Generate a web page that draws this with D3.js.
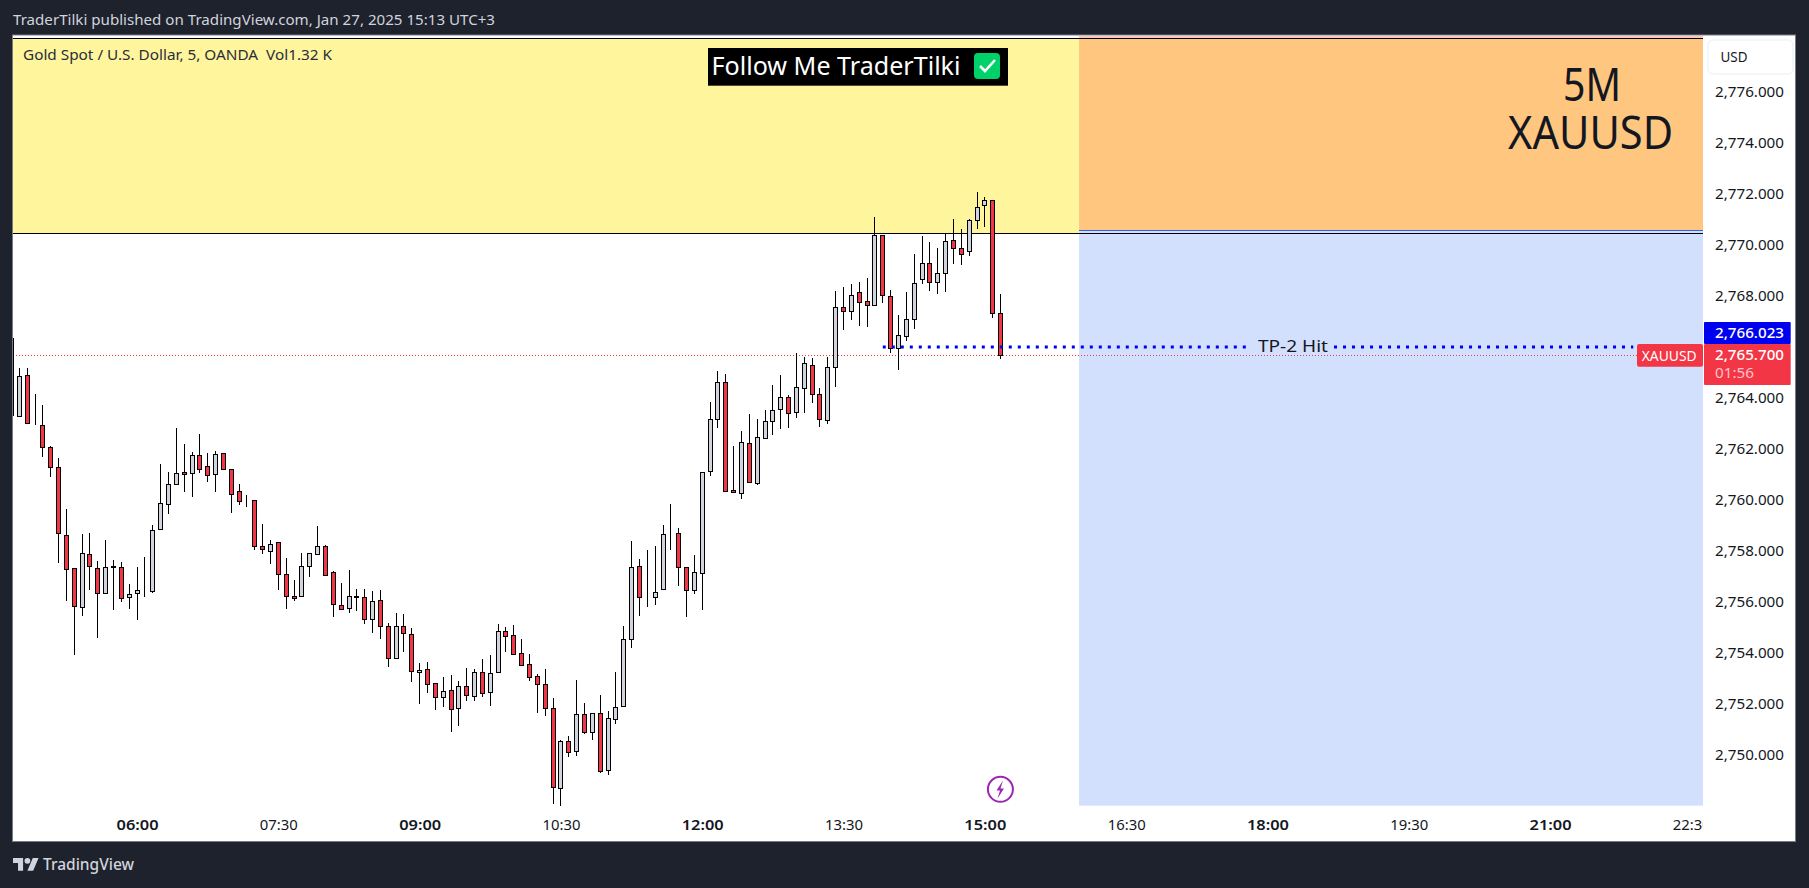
<!DOCTYPE html>
<html><head><meta charset="utf-8">
<script src="https://d3js.org/d3.v7.min.js"></script>
<style>html,body{margin:0;padding:0;background:#1e222d;overflow:hidden}svg{display:block}text{font-family:"Noto Sans",sans-serif}</style>
</head><body><svg id="c" width="1809" height="888"></svg>
<script>
const opens=[2766.37,
2763.31,2764.91,2763.03,2762.95,2762.09,2761.31,2758.64,2757.35,2755.82,2757.90,
2757.35,2756.37,2757.42,2757.39,2756.21,2756.37,2756.48,2756.44,2758.87,2759.85,
2760.64,2761.11,2761.07,2761.78,2761.35,2761.03,2761.86,2761.23,2760.37,2760.01,
2760.01,2758.21,2758.01,2758.36,2757.11,2756.25,2756.25,2757.42,2757.90,2758.21,
2757.19,2755.89,2755.78,2756.25,2756.21,2755.35,2756.09,2755.07,2753.82,2755.07,
2754.76,2753.27,2753.38,2752.84,2752.29,2752.56,2751.86,2752.72,2752.33,2753.27,
2752.48,2753.27,2754.87,2754.72,2754.01,2753.58,2753.11,2752.80,2751.86,2748.72,
2750.56,2750.17,2751.62,2750.91,2751.66,2749.42,2751.42,2751.93,2754.56,2757.42,
2756.21,2756.21,2756.52,2758.72,2758.72,2757.38,2756.48,2757.15,2761.15,2763.19,
2764.64,2760.41,2760.29,2762.25,2760.68,2762.44,2763.11,2763.58,2764.05,2763.46,
2764.40,2765.31,2764.17,2763.15,2765.23,2767.58,2767.42,2768.17,2767.82,2767.66,
2770.41,2768.01,2765.97,2766.44,2767.11,2768.68,2769.31,2768.56,2768.92,2770.21,
2769.90,2769.78,2770.99,2771.58,2771.78,2767.35];
const highs=[2766.37,
2765.20,2765.20,2764.18,2763.75,2762.13,2761.67,2759.67,2757.35,2758.69,2758.73,
2757.63,2758.42,2757.67,2757.59,2756.73,2757.36,2757.79,2759.04,2761.40,2761.12,
2762.81,2762.22,2761.87,2762.61,2761.83,2761.91,2761.86,2761.23,2760.65,2760.22,
2760.01,2759.08,2758.42,2758.36,2757.75,2756.85,2757.91,2757.93,2758.97,2758.26,
2757.23,2756.77,2757.28,2756.53,2756.53,2756.42,2756.46,2755.20,2755.59,2755.55,
2754.97,2753.63,2753.67,2752.84,2753.08,2753.16,2752.89,2753.40,2753.36,2753.79,
2753.91,2755.16,2755.01,2755.12,2754.57,2753.95,2753.20,2753.36,2752.26,2750.60,
2750.77,2752.93,2752.06,2751.66,2752.34,2751.75,2753.28,2755.08,2758.38,2757.71,
2758.06,2758.22,2759.04,2759.83,2758.89,2757.38,2757.83,2761.11,2763.83,2765.05,
2764.93,2762.14,2762.73,2763.36,2763.20,2763.52,2764.50,2764.89,2764.14,2765.79,
2765.63,2765.59,2764.38,2765.63,2768.22,2768.34,2768.46,2768.54,2768.73,2771.12,
2770.41,2768.26,2767.28,2768.18,2769.67,2770.34,2770.14,2769.87,2770.48,2771.01,
2770.65,2771.03,2772.10,2771.87,2771.78,2768.07];
const lows=[2763.32,
2763.31,2763.03,2762.98,2761.72,2760.94,2757.57,2756.08,2753.96,2755.49,2756.51,
2754.63,2756.37,2755.73,2756.04,2755.76,2755.33,2756.23,2756.39,2758.87,2759.49,
2760.64,2760.35,2760.16,2761.10,2760.74,2760.35,2761.23,2759.53,2759.84,2759.76,
2758.08,2757.92,2757.53,2756.51,2755.76,2756.08,2756.25,2757.02,2757.90,2757.07,
2755.45,2755.74,2755.61,2755.71,2755.18,2754.82,2754.59,2753.49,2753.82,2754.08,
2752.90,2752.04,2752.47,2751.80,2751.92,2750.94,2751.18,2752.16,2752.16,2752.31,
2751.96,2753.27,2754.08,2753.97,2753.54,2752.94,2751.69,2751.57,2748.12,2748.04,
2749.96,2750.00,2750.86,2750.63,2749.33,2749.25,2751.25,2751.93,2754.23,2755.49,
2755.84,2755.92,2756.52,2758.08,2756.67,2755.45,2756.35,2755.73,2760.98,2762.86,
2760.37,2760.33,2760.08,2760.72,2760.63,2762.44,2762.59,2762.82,2762.86,2763.25,
2763.45,2763.84,2762.90,2763.02,2764.47,2766.71,2767.10,2766.86,2766.82,2767.66,
2767.76,2765.80,2765.14,2766.27,2766.75,2768.51,2768.24,2768.12,2768.20,2769.29,
2769.26,2769.61,2770.67,2770.75,2767.18,2765.57];
const closes=[2763.32,
2764.88,2763.03,2763.02,2762.09,2761.31,2758.72,2757.31,2755.86,2757.93,2757.42,
2756.37,2757.39,2757.39,2756.17,2756.33,2756.48,2756.47,2758.84,2759.89,2760.64,
2761.07,2761.03,2761.78,2761.23,2760.99,2761.82,2761.23,2760.25,2759.97,2760.00,
2758.21,2758.09,2758.29,2757.11,2756.25,2756.17,2757.42,2757.93,2758.21,2757.07,
2755.93,2755.74,2756.25,2756.21,2755.35,2756.05,2755.07,2753.82,2755.07,2754.80,
2753.31,2753.35,2752.80,2752.29,2752.52,2751.82,2752.72,2752.37,2753.27,2752.44,
2753.23,2754.87,2754.68,2753.97,2753.54,2753.07,2752.80,2751.86,2748.76,2750.56,
2750.13,2751.62,2750.91,2751.66,2749.38,2751.46,2751.89,2754.56,2757.38,2756.21,
2756.20,2756.40,2758.68,2758.70,2757.38,2756.48,2757.19,2761.11,2763.19,2764.64,
2760.37,2760.33,2762.29,2760.72,2762.48,2763.11,2763.54,2764.05,2763.42,2764.44,
2765.39,2764.17,2763.19,2765.23,2767.58,2767.42,2768.05,2767.78,2767.66,2770.41,
2768.05,2765.97,2766.48,2767.11,2768.52,2769.31,2768.56,2768.92,2770.17,2769.90,
2769.66,2770.99,2771.50,2771.78,2767.35,2765.70];
const firstBarMinutes=280, barMinutes=5;
const timeLabels=["06:00","07:30","09:00","10:30","12:00","13:30","15:00","16:30","18:00","19:30","21:00","22:30"];
const boldLabels=["06:00","09:00","12:00","15:00","18:00","21:00"];
const priceTicks=[2750,2752,2754,2756,2758,2760,2762,2764,2768,2770,2772,2774,2776];
const zoneTop=2778.13, zoneMid=2770.6, zoneLine=2770.48, zoneBottom=2748.04, zoneStart=960;
const lastPrice=2765.7, targetPrice=2766.023;
const targetFrom=835, targetGapA=1066.4, targetGapB=1122.4, targetTo=1313;

const toMin=s=>{const [h,m]=s.split(":");return +h*60 + +m;};
const svg=d3.select("#c");
const x=d3.scaleLinear().domain([285,1350]).range([19.3,19.3+213*7.85]);
const y=d3.scaleLinear().domain([2776,2750]).range([92.65,755.65]);
const snap=v=>Math.floor(v)+.5;
const L=13,R=1703,PR=1795.5,T=35,B=841.5;

svg.append("rect").attr("x",12.5).attr("y",T).attr("width",PR-12.5).attr("height",B-T).attr("fill","#fff").attr("stroke","#787b86").attr("stroke-width",1);
const defs=svg.append("defs");
defs.append("clipPath").attr("id","plot").append("rect").attr("x",L).attr("y",36).attr("width",R-L).attr("height",B-36);
const g=svg.append("g").attr("clip-path","url(#plot)");

// zones
const zs=x(zoneStart);
g.append("rect").attr("x",L).attr("y",y(zoneTop)).attr("width",zs-L).attr("height",y(zoneLine)-y(zoneTop)).attr("fill","#fff59d");
g.append("rect").attr("x",zs).attr("y",y(zoneTop)).attr("width",R-zs).attr("height",y(zoneMid)-y(zoneTop)).attr("fill","#ffc680");
g.append("rect").attr("x",zs).attr("y",y(zoneMid)).attr("width",R-zs).attr("height",y(zoneBottom)-y(zoneMid)).attr("fill","#d2e0fd");
g.append("rect").attr("x",zs).attr("y",36).attr("width",R-zs).attr("height",2).attr("fill","#ffc9c0");
g.append("line").attr("x1",L).attr("x2",R).attr("y1",snap(y(zoneTop))).attr("y2",snap(y(zoneTop))).attr("stroke","#000");
g.append("line").attr("x1",zs).attr("x2",R).attr("y1",snap(y(zoneMid))).attr("y2",snap(y(zoneMid))).attr("stroke","#2962ff");
g.append("line").attr("x1",L).attr("x2",R).attr("y1",snap(y(zoneLine))).attr("y2",snap(y(zoneLine))).attr("stroke","#000");

// price line
g.append("line").attr("x1",L).attr("x2",1637).attr("y1",snap(y(lastPrice))).attr("y2",snap(y(lastPrice))).attr("stroke","#f23645").attr("stroke-dasharray","1 2");

// candles
const bars=d3.range(opens.length).map(i=>({i,o:opens[i],h:highs[i],l:lows[i],c:closes[i],cx:snap(x(firstBarMinutes+i*barMinutes))}));
const cg=g.selectAll("g.b").data(bars).join("g").attr("class","b");
cg.append("line").attr("x1",d=>d.cx).attr("x2",d=>d.cx).attr("y1",d=>Math.floor(y(d.h))).attr("y2",d=>Math.ceil(y(d.l))).attr("stroke","#000");
cg.append("rect").attr("x",d=>d.cx-2).attr("width",4)
  .attr("y",d=>snap(y(Math.max(d.o,d.c))))
  .attr("height",d=>Math.max(0,snap(y(Math.min(d.o,d.c)))-snap(y(Math.max(d.o,d.c)))))
  .attr("fill",d=>d.c>=d.o?"#d1d4dc":"#f23645").attr("stroke","#000");

// target dotted line
[[targetFrom,targetGapA],[targetGapB,targetTo]].forEach(([a,b])=>{
  g.append("line").attr("x1",x(a)).attr("x2",x(b)).attr("y1",y(targetPrice)).attr("y2",y(targetPrice)).attr("stroke","#0000f0").attr("stroke-width",3).attr("stroke-dasharray","3 6");
});
function txt(p,s,xx,yy,size,fill,opt={}){
  const t=p.append("text").attr("x",xx).attr("y",yy).attr("dy",".35em").attr("font-size",size).attr("fill",fill).text(s);
  if(opt.anchor)t.attr("text-anchor",opt.anchor);
  if(opt.len)t.attr("textLength",opt.len).attr("lengthAdjust","spacingAndGlyphs");
  if(opt.weight)t.attr("font-weight",opt.weight);
  return t;
}
txt(g,"TP-2 Hit",1258,346,17,"#131722",{len:70});

// headline annotations
svg.append("rect").attr("x",708).attr("y",48).attr("width",300).attr("height",37.7).attr("fill","#000");
txt(svg,"Follow Me TraderTilki",711.5,66,26,"#fff",{len:249});
svg.append("rect").attr("x",974).attr("y",53).attr("width",26).attr("height",26).attr("rx",4).attr("fill","#00d26a");
svg.append("path").attr("d","M980 66l5 5 10-11").attr("fill","none").attr("stroke","#fff").attr("stroke-width",2.6);
const big=svg.append("text").attr("font-size",46).attr("fill","#131722").attr("text-anchor","middle");
big.append("tspan").attr("x",1592).attr("y",85).attr("dy",".35em").attr("textLength",58).attr("lengthAdjust","spacingAndGlyphs").text("5M");
big.append("tspan").attr("x",1590.5).attr("y",133).attr("dy",".35em").attr("textLength",165).attr("lengthAdjust","spacingAndGlyphs").text("XAUUSD");
txt(svg,"Gold Spot / U.S. Dollar, 5, OANDA  Vol1.32 K",23,54.5,15,"#2a2e39",{len:309}).attr("xml:space","preserve");

// bolt icon
svg.append("circle").attr("cx",1000.4).attr("cy",789.3).attr("r",12.5).attr("fill","#fff").attr("stroke","#9c27b0").attr("stroke-width",2);
svg.append("path").attr("d","M1003 780.5l-6.5 10h3.5l-2.5 8 6.5-10h-3.5z").attr("fill","#9c27b0");

// axes
const ya=svg.append("g").call(d3.axisRight(y).tickValues(priceTicks).tickSize(0).tickFormat(d3.format(",.3f")));
ya.select(".domain").remove();
ya.selectAll("text").attr("x",1715).attr("y",-1).attr("dy",".35em").attr("text-anchor","start").attr("font-size",15).attr("fill","#131722").attr("font-family",'"Noto Sans"').attr("textLength",69).attr("lengthAdjust","spacingAndGlyphs");
const xa=g.append("g").attr("transform","translate(0,825)").call(d3.axisBottom(x).tickValues(timeLabels.map(toMin)).tickSize(0).tickFormat(m=>d3.format("02")(Math.floor(m/60))+":"+d3.format("02")(m%60)));
xa.select(".domain").remove();
xa.selectAll("text").attr("y",0).attr("dy",".35em").attr("font-size",15).attr("fill","#131722").attr("font-family",'"Noto Sans"')
  .attr("font-weight",function(){return boldLabels.includes(this.textContent)?600:400;})
  .attr("textLength",function(){return boldLabels.includes(this.textContent)?42:38;}).attr("lengthAdjust","spacingAndGlyphs");

// usd box & tags
svg.append("rect").attr("x",1708).attr("y",40).attr("width",85).attr("height",34).attr("rx",5).attr("fill","#fff").attr("stroke","#f0f3fa").attr("stroke-width",1.5);
txt(svg,"USD",1720.5,57.5,14,"#131722",{len:27});
svg.append("rect").attr("x",1637).attr("y",344).attr("width",66).attr("height",22.7).attr("rx",2).attr("fill","#f23645");
txt(svg,"XAUUSD",1641.7,355.7,15,"#fff",{len:55});
svg.append("rect").attr("x",1704).attr("y",322).attr("width",86.7).attr("height",22).attr("rx",1).attr("fill","#0000f0");
txt(svg,d3.format(",.3f")(targetPrice),1715,332.7,15,"#fff",{len:69,weight:500});
svg.append("rect").attr("x",1704).attr("y",344).attr("width",86.7).attr("height",41).attr("rx",1).attr("fill","#f23645");
txt(svg,d3.format(",.3f")(lastPrice),1715,355,15,"#fff",{len:69,weight:500});
txt(svg,"01:56",1715,372.3,15,"#ffc4c9",{len:39});

// header and footer
txt(svg,"TraderTilki published on TradingView.com, Jan 27, 2025 15:13 UTC+3",13,20,15,"#d1d4dc",{len:482});
svg.append("path").attr("transform","translate(13,855) scale(.72)").attr("d","M14 22H7V11H0V4h14v18zM28 22h-8l7.5-18h8L28 22z").attr("fill","#d1d4dc");
svg.append("circle").attr("transform","translate(13,855) scale(.72)").attr("cx",20).attr("cy",8).attr("r",4).attr("fill","#d1d4dc");
txt(svg,"TradingView",43,865,15.5,"#d1d4dc",{len:91,weight:500});
</script></body></html>
